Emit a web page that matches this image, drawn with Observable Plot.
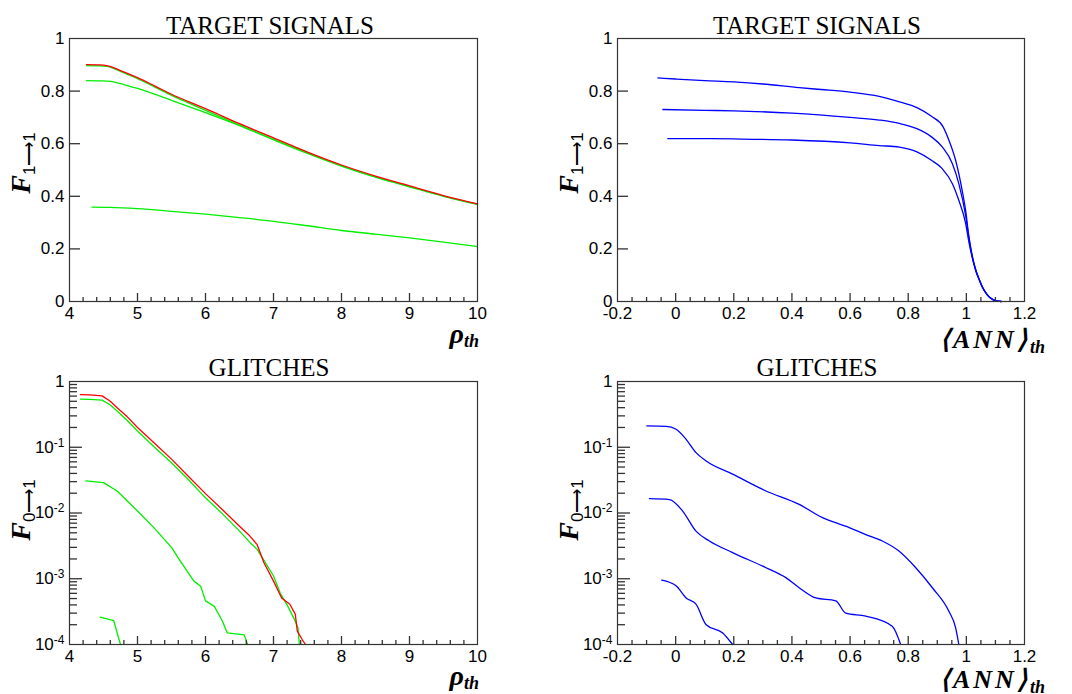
<!DOCTYPE html>
<html>
<head>
<meta charset="utf-8">
<script src="https://cdn.jsdelivr.net/npm/d3@7"></script>
<script src="https://cdn.jsdelivr.net/npm/@observablehq/plot@0.6"></script>
<style>
  html, body { margin: 0; padding: 0; background: #fff; }
  #wrap { position: relative; width: 1072px; height: 694px; overflow: hidden; background: #fff; }
  .pnl { position: absolute; }
  .txt { position: absolute; white-space: nowrap; color: #000; }
</style>
</head>
<body>
<div id="wrap"></div>
<script>
// ---------------- DATA ----------------
// Top-left: TARGET SIGNALS vs rho_th
const tlRedRho   = [4.25,4.4,4.55,4.75,5.0,5.25,5.5,5.75,6.0,6.5,7.0,7.5,8.0,8.5,9.0,9.5,10.0];
const tlRedF     = [0.901,0.900,0.897,0.878,0.851,0.820,0.788,0.760,0.733,0.676,0.622,0.568,0.519,0.477,0.440,0.403,0.371];
const tlGreen1Rho = [4.25,4.4,4.55,4.75,5.0,5.25,5.5,5.75,6.0,6.5,7.0,7.5,8.0,8.5,9.0,9.5,10.0];
const tlGreen1F   = [0.897,0.896,0.894,0.875,0.847,0.816,0.784,0.755,0.727,0.671,0.617,0.565,0.516,0.474,0.437,0.401,0.370];
const tlGreen2Rho = [4.25,4.45,4.6,4.8,5.0,5.5,6.0,6.5,7.0,7.5,8.0,8.5,9.0,9.5,10.0];
const tlGreen2F   = [0.840,0.839,0.837,0.825,0.810,0.765,0.718,0.669,0.615,0.563,0.515,0.473,0.436,0.400,0.369];
const tlGreen3Rho = [4.33,4.6,5.0,5.5,6.0,6.5,7.0,7.5,8.0,8.5,9.0,9.5,10.0];
const tlGreen3F   = [0.359,0.358,0.353,0.343,0.332,0.319,0.305,0.288,0.270,0.256,0.242,0.226,0.209];

// Top-right: TARGET SIGNALS vs <ANN>_th
const trAX = [-0.061,0.0,0.1,0.2,0.3,0.425,0.5,0.6,0.7,0.77,0.83,0.88,0.92,0.94,0.963,0.986,0.997,1.009,1.02,1.032,1.045,1.055,1.07,1.083,1.1,1.12];
const trAY = [0.850,0.846,0.840,0.835,0.827,0.813,0.806,0.796,0.780,0.759,0.737,0.704,0.664,0.613,0.537,0.420,0.350,0.245,0.175,0.122,0.082,0.056,0.028,0.013,0.003,0.0];
const trBX = [-0.044,0.1,0.2,0.4,0.6,0.7,0.77,0.83,0.88,0.917,0.952,0.974,0.997,1.009,1.02,1.032,1.045,1.055,1.07,1.083,1.1,1.12];
const trBY = [0.730,0.727,0.725,0.716,0.700,0.690,0.677,0.657,0.626,0.588,0.524,0.448,0.330,0.240,0.172,0.120,0.082,0.055,0.028,0.013,0.003,0.0];
const trCX = [-0.027,0.1,0.2,0.4,0.6,0.7,0.77,0.83,0.88,0.917,0.952,0.974,0.997,1.009,1.02,1.032,1.045,1.055,1.07,1.083,1.1,1.12];
const trCY = [0.619,0.619,0.618,0.614,0.603,0.593,0.587,0.569,0.537,0.505,0.448,0.385,0.300,0.225,0.168,0.118,0.080,0.054,0.028,0.013,0.003,0.0];

// Bottom-left: GLITCHES vs rho_th (log)
const blRedRho = [4.16,4.3,4.48,4.6,4.7,4.85,5.0,5.25,5.5,5.75,6.0,6.25,6.5,6.65,6.76,6.86,7.0,7.12,7.24,7.32,7.35,7.42,7.47];
const blRedF   = [0.63,0.625,0.605,0.50,0.40,0.29,0.20,0.115,0.066,0.036,0.0197,0.0112,0.0063,0.0045,0.0033,0.00175,0.00092,0.00051,0.00041,0.00029,0.00016,0.00012,0.0001];
const blGreen1Rho = [4.16,4.3,4.48,4.6,4.7,4.85,5.0,5.25,5.5,5.75,6.0,6.25,6.5,6.65,6.76,6.86,7.0,7.1,7.2,7.3,7.36,7.38];
const blGreen1F   = [0.54,0.535,0.52,0.44,0.355,0.255,0.177,0.10,0.058,0.032,0.017,0.0097,0.0053,0.0036,0.0028,0.0019,0.0011,0.0006,0.0004,0.00025,0.00018,0.0001];
const blGreen2Rho = [4.24,4.5,4.7,5.0,5.24,5.5,5.63,5.83,5.93,6.0,6.13,6.25,6.32,6.57,6.62];
const blGreen2F   = [0.0307,0.029,0.0216,0.0107,0.006,0.003,0.00186,0.00092,0.00077,0.00046,0.00038,0.000226,0.00015,0.00014,0.0001];
const blGreen3Rho = [4.45,4.65,4.75];
const blGreen3F   = [0.00026,0.00023,0.0001];

// Bottom-right: GLITCHES vs <ANN>_th (log)
const brAX = [-0.099,-0.033,0.0015,0.036,0.07,0.105,0.196,0.311,0.425,0.505,0.597,0.654,0.711,0.768,0.826,0.883,0.94,0.963,0.974];
const brAY = [0.211,0.208,0.188,0.132,0.083,0.062,0.039,0.0216,0.0135,0.0085,0.006,0.0047,0.00375,0.00264,0.00147,0.00073,0.00032,0.00018,0.0001];
const brBX = [-0.09,-0.021,0.024,0.07,0.116,0.196,0.311,0.379,0.425,0.482,0.551,0.585,0.654,0.745,0.774];
const brBY = [0.0165,0.016,0.0107,0.0053,0.00375,0.0025,0.00147,0.00104,0.00073,0.00051,0.00046,0.0003,0.00027,0.00019,0.0001];
const brCX = [-0.048,0.0015,0.036,0.07,0.105,0.162,0.196];
const brCY = [0.00095,0.00078,0.00051,0.00041,0.0002,0.00015,0.0001];

// Tick values / labels
const rhoTicks = [4,5,6,7,8,9,10];
const annTicks = [-0.2,0,0.2,0.4,0.6,0.8,1,1.2];
const annTickLabels = ["-0.2","0","0.2","0.4","0.6","0.8","1","1.2"];
const linYTicks = [0,0.2,0.4,0.6,0.8,1];
const linYTickLabels = ["0","0.2","0.4","0.6","0.8","1"];
const logYTicks = [1e-4,1e-3,1e-2,1e-1,1];
const logYTickLabels = ["10^-4","10^-3","10^-2","10^-1","1"];

const titles = ["TARGET SIGNALS","TARGET SIGNALS","GLITCHES","GLITCHES"];

const RED = "#ff0000", GREEN = "#00ee00", BLUE = "#0000ff";

// ---------------- DRAW ----------------
const wrap = document.getElementById("wrap");
const W = 536, H = 347, AX = "#333", TW = 1.3;

const rhoMinor = d3.range(4, 10.001, 0.2).map(v => +v.toFixed(2)).filter(v => !rhoTicks.includes(v));
const annMinor = d3.range(-0.2, 1.2001, 0.05).map(v => +v.toFixed(2)).filter(v => !annTicks.some(t => Math.abs(t - v) < 1e-9));
const logMinor = [];
for (let k = -4; k <= -1; k++) for (let m = 2; m <= 9; m++) logMinor.push(m * Math.pow(10, k));

function series(xs, ys, color) {
  return {data: xs.map((x, i) => ({x, y: ys[i]})), color};
}

function panel(cfg) {
  const fw = W - cfg.ml - cfg.mr, fh = H - cfg.mt - cfg.mb;
  const xLab = v => cfg.xLabels[cfg.xTicks.indexOf(v)] ?? String(v);
  const yLab = v => cfg.yLabels[cfg.yTicks.indexOf(v)] ?? String(v);
  const yInner = cfg.yTicks.slice(1, -1);
  const xInner = cfg.xTicks.slice(1, -1);
  const marks = [
    ...cfg.series.map(s => Plot.line(s.data, {x: "x", y: "y", stroke: s.color, strokeWidth: 1.3, curve: cfg.curve})),
    Plot.frame({stroke: AX, strokeWidth: 1.2}),
    // inward ticks (ROOT style)
    Plot.ruleX(cfg.xMinor, {insetTop: fh - 4, stroke: AX, strokeWidth: TW}),
    Plot.ruleX(xInner, {insetTop: fh - 8, stroke: AX, strokeWidth: TW}),
    Plot.ruleY(yInner, {insetRight: fw - cfg.yMajorLen, stroke: AX, strokeWidth: TW})
  ];
  if (cfg.yMinor) marks.push(Plot.ruleY(cfg.yMinor, {insetRight: fw - 8, stroke: AX, strokeWidth: TW}));
  const svg = Plot.plot({
    width: W, height: H,
    marginLeft: cfg.ml, marginRight: cfg.mr, marginTop: cfg.mt, marginBottom: cfg.mb,
    x: {domain: cfg.xDomain, ticks: cfg.xTicks, tickFormat: xLab, tickSize: 0, tickPadding: 5, label: null},
    y: {type: cfg.yType, domain: cfg.yDomain, ticks: cfg.yTicks, tickFormat: yLab, tickSize: 0, tickPadding: 5, label: null},
    style: {fontFamily: "'Liberation Sans', Arial, sans-serif", fontSize: "17px", color: "#000", background: "transparent", overflow: "visible"},
    marks
  });
  // superscript exponents on log labels
  svg.querySelectorAll('g[aria-label="y-axis tick label"] text').forEach(t => {
    const s = t.textContent;
    if (s.startsWith("10^")) {
      t.textContent = "";
      const ns = "http://www.w3.org/2000/svg";
      const a = document.createElementNS(ns, "tspan"); a.textContent = "10"; t.appendChild(a);
      const b = document.createElementNS(ns, "tspan"); b.textContent = s.slice(3);
      b.setAttribute("dy", "-0.5em"); b.setAttribute("font-size", "12px"); t.appendChild(b);
    }
  });
  const d = document.createElement("div");
  d.className = "pnl";
  d.style.left = cfg.left + "px"; d.style.top = cfg.top + "px";
  d.appendChild(svg);
  wrap.appendChild(d);
}

panel({left: 0, top: 0, ml: 69, mr: 59, mt: 38, mb: 46, curve: "monotone-x",
  xDomain: [4, 10], xTicks: rhoTicks, xLabels: rhoTicks.map(String), xMinor: rhoMinor,
  yType: "linear", yDomain: [0, 1], yTicks: linYTicks, yLabels: linYTickLabels, yMajorLen: 11,
  series: [series(tlGreen3Rho, tlGreen3F, GREEN), series(tlGreen2Rho, tlGreen2F, GREEN), series(tlGreen1Rho, tlGreen1F, GREEN), series(tlRedRho, tlRedF, RED)]});

panel({left: 536, top: 0, ml: 81, mr: 48, mt: 38, mb: 46, curve: "monotone-x",
  xDomain: [-0.2, 1.2], xTicks: annTicks, xLabels: annTickLabels, xMinor: annMinor,
  yType: "linear", yDomain: [0, 1], yTicks: linYTicks, yLabels: linYTickLabels, yMajorLen: 11,
  series: [series(trAX, trAY, BLUE), series(trBX, trBY, BLUE), series(trCX, trCY, BLUE)]});

panel({left: 0, top: 347, ml: 69, mr: 59, mt: 34, mb: 50, curve: "linear",
  xDomain: [4, 10], xTicks: rhoTicks, xLabels: rhoTicks.map(String), xMinor: rhoMinor,
  yType: "log", yDomain: [1e-4, 1], yTicks: logYTicks, yLabels: logYTickLabels, yMajorLen: 13, yMinor: logMinor,
  series: [series(blGreen3Rho, blGreen3F, GREEN), series(blGreen2Rho, blGreen2F, GREEN), series(blGreen1Rho, blGreen1F, GREEN), series(blRedRho, blRedF, RED)]});

panel({left: 536, top: 347, ml: 81, mr: 48, mt: 34, mb: 50, curve: "monotone-x",
  xDomain: [-0.2, 1.2], xTicks: annTicks, xLabels: annTickLabels, xMinor: annMinor,
  yType: "log", yDomain: [1e-4, 1], yTicks: logYTicks, yLabels: logYTickLabels, yMajorLen: 13, yMinor: logMinor,
  series: [series(brAX, brAY, BLUE), series(brBX, brBY, BLUE), series(brCX, brCY, BLUE)]});

// ---------------- TEXT ----------------
function addText(html, style) {
  const d = document.createElement("div");
  d.className = "txt";
  d.innerHTML = html;
  Object.assign(d.style, style);
  wrap.appendChild(d);
  return d;
}
const serif = "'Liberation Serif', 'Times New Roman', serif";
const titleStyle = (cx, top) => ({left: (cx - 150) + "px", width: "300px", textAlign: "center", top: top + "px",
  fontFamily: serif, fontSize: "25px", lineHeight: "25px"});
addText(titles[0], titleStyle(270, 13));
addText(titles[1], titleStyle(817, 13));
addText(titles[2], titleStyle(269, 355));
addText(titles[3], titleStyle(817, 355));

const rhoHTML = `<span style="font:bold italic 28px ${serif}">ρ</span><span style="font:bold italic 18px ${serif};position:relative;top:4px">th</span>`;
addText(rhoHTML, {right: (1072 - 479) + "px", top: "318px", lineHeight: "28px"});
addText(rhoHTML, {right: (1072 - 479) + "px", top: "660px", lineHeight: "28px"});

const annHTML = `<span style="font:bold italic 26px ${serif};letter-spacing:3px">⟨ANN⟩</span><span style="font:bold italic 18px ${serif};position:relative;top:5px">th</span>`;
addText(annHTML, {left: "940px", top: "324px", lineHeight: "26px"});
addText(annHTML, {left: "940px", top: "664px", lineHeight: "26px"});

const fHTML = sub => `<span style="font:bold italic 28px ${serif}">F</span><span style="font:17px 'Liberation Sans', Arial, sans-serif;position:relative;top:5px">${sub}</span>`;
const yTitle = (html, cx, cy) => addText(html, {left: cx + "px", top: cy + "px", lineHeight: "28px",
  transform: "translate(-50%,-50%) rotate(-90deg)"});
yTitle(fHTML("1⟶1"), 22, 163);
yTitle(fHTML("1⟶1"), 570, 163);
yTitle(fHTML("0⟶1"), 22, 510);
yTitle(fHTML("0⟶1"), 570, 510);
</script>
</body>
</html>
